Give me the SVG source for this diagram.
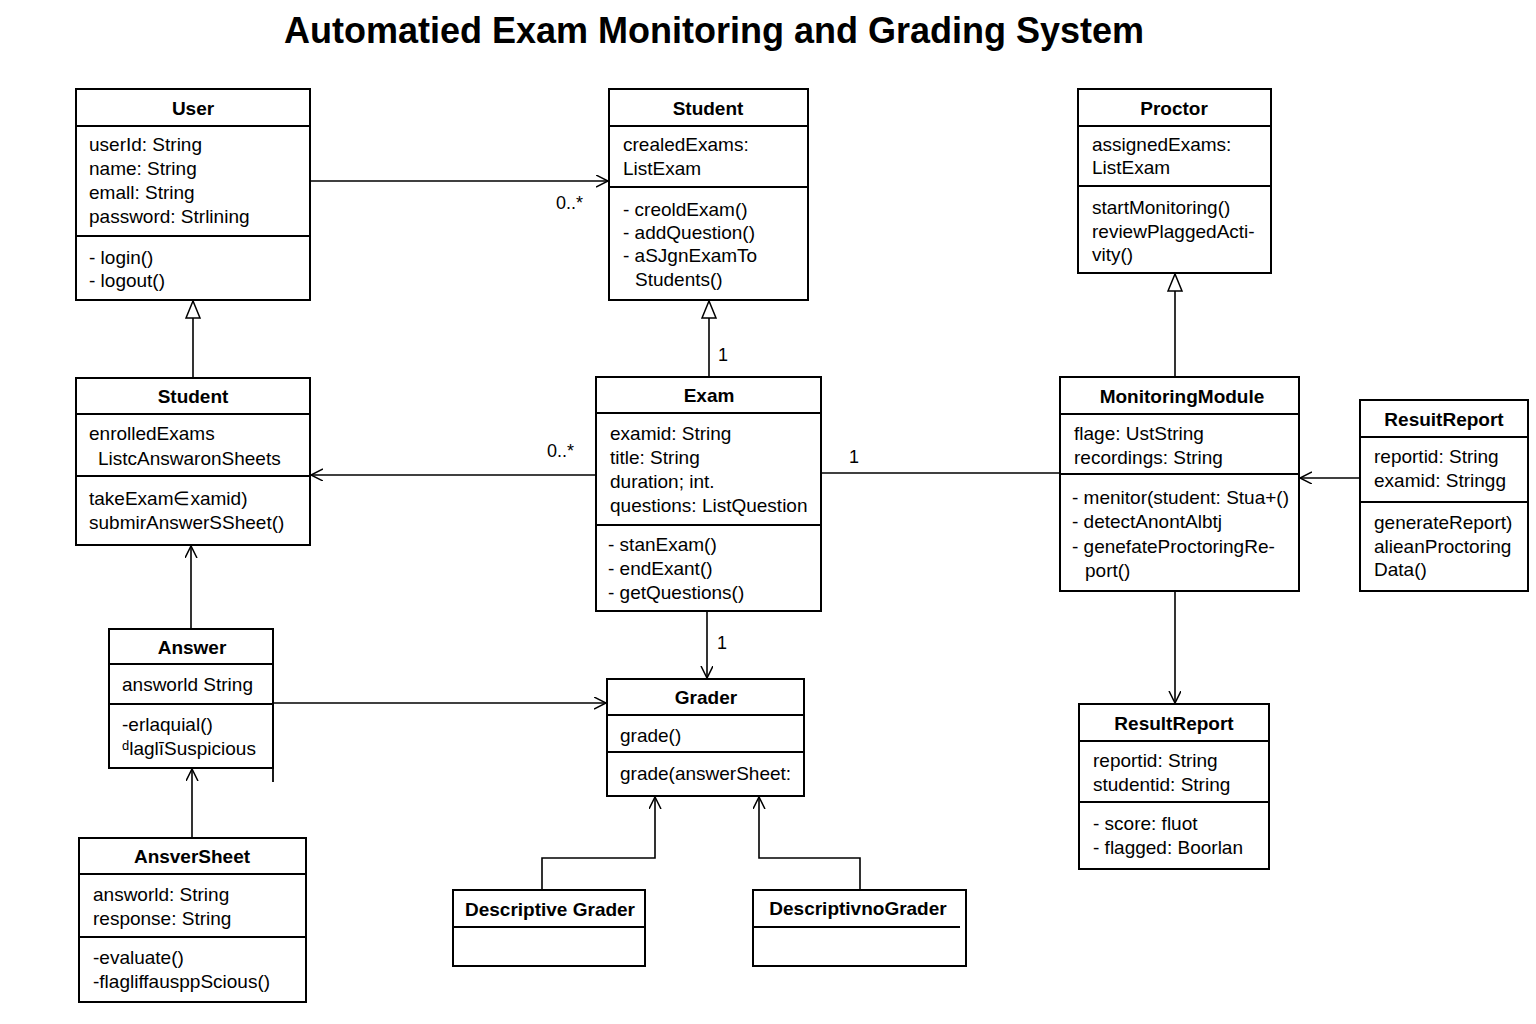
<svg xmlns="http://www.w3.org/2000/svg" width="1536" height="1024" viewBox="0 0 1536 1024">
<defs>
<marker id="open" markerUnits="userSpaceOnUse" markerWidth="14" markerHeight="14" refX="12" refY="6" orient="auto"><path d="M0,0 L12,6 L0,12" fill="none" stroke="#000" stroke-width="1.5"/></marker>
<marker id="tri" markerUnits="userSpaceOnUse" markerWidth="20" markerHeight="20" refX="18" refY="8" orient="auto"><path d="M1,1 L18,8 L1,15 Z" fill="#fff" stroke="#000" stroke-width="1.5"/></marker>
</defs>
<style>
.box{fill:#fff;stroke:#000;stroke-width:2}
.div{stroke:#000;stroke-width:1.8}
.h{font-family:"Liberation Sans",Arial,sans-serif;font-weight:bold;font-size:19px;text-anchor:middle;fill:#000}
.t{font-family:"Liberation Sans",Arial,sans-serif;font-size:19px;fill:#000}
.lbl{font-family:"Liberation Sans",Arial,sans-serif;font-size:18px;fill:#000}
.c{fill:none;stroke:#000;stroke-width:1.6}
.title{font-family:"Liberation Sans",Arial,sans-serif;font-weight:bold;font-size:36px;text-anchor:middle;fill:#000}
</style>
<rect width="1536" height="1024" fill="#fff"/>
<text class="title" x="714" y="43">Automatied Exam Monitoring and Grading System</text>

<g id="connectors">
<line class="c" x1="310" y1="181" x2="608" y2="181" marker-end="url(#open)"/>
<line class="c" x1="193" y1="378" x2="193" y2="301" marker-end="url(#tri)"/>
<line class="c" x1="709" y1="377" x2="709" y2="301" marker-end="url(#tri)"/>
<line class="c" x1="596" y1="475" x2="311" y2="475" marker-end="url(#open)"/>
<line class="c" x1="821" y1="473" x2="1060" y2="473"/>
<line class="c" x1="1175" y1="377" x2="1175" y2="274" marker-end="url(#tri)"/>
<line class="c" x1="1360" y1="478" x2="1300" y2="478" marker-end="url(#open)"/>
<line class="c" x1="1175" y1="591" x2="1175" y2="703" marker-end="url(#open)"/>
<line class="c" x1="707" y1="611" x2="707" y2="678" marker-end="url(#open)"/>
<line class="c" x1="273" y1="703" x2="606" y2="703" marker-end="url(#open)"/>
<line class="c" x1="191" y1="629" x2="191" y2="546" marker-end="url(#open)"/>
<line class="c" x1="192" y1="838" x2="192" y2="769" marker-end="url(#open)"/>
<polyline class="c" points="542,890 542,858 655,858 655,797" marker-end="url(#open)"/>
<polyline class="c" points="860,890 860,858 759,858 759,797" marker-end="url(#open)"/>
<text class="lbl" x="556" y="209">0..*</text>
<text class="lbl" x="718" y="361">1</text>
<text class="lbl" x="547" y="457">0..*</text>
<text class="lbl" x="849" y="463">1</text>
<text class="lbl" x="717" y="649">1</text>
</g>

<g id="user">
<rect class="box" x="76" y="89" width="234" height="211"/>
<line class="div" x1="76" y1="126" x2="310" y2="126"/>
<line class="div" x1="76" y1="236" x2="310" y2="236"/>
<text class="h" x="193" y="115">User</text>
<text class="t" x="89" y="151">userId: String</text>
<text class="t" x="89" y="175">name: String</text>
<text class="t" x="89" y="199">emall: String</text>
<text class="t" x="89" y="223">password: Strlining</text>
<text class="t" x="89" y="264">- login()</text>
<text class="t" x="89" y="287">- logout()</text>
</g>

<g id="student-top">
<rect class="box" x="609" y="89" width="199" height="211"/>
<line class="div" x1="609" y1="126" x2="808" y2="126"/>
<line class="div" x1="609" y1="187" x2="808" y2="187"/>
<text class="h" x="708" y="115">Student</text>
<text class="t" x="623" y="151">crealedExams:</text>
<text class="t" x="623" y="175">ListExam</text>
<text class="t" x="623" y="216">- creoldExam()</text>
<text class="t" x="623" y="239">- addQuestion()</text>
<text class="t" x="623" y="262">- aSJgnExamTo</text>
<text class="t" x="635" y="286">Students()</text>
</g>

<g id="proctor">
<rect class="box" x="1078" y="89" width="193" height="184"/>
<line class="div" x1="1078" y1="126" x2="1271" y2="126"/>
<line class="div" x1="1078" y1="186" x2="1271" y2="186"/>
<text class="h" x="1174" y="115">Proctor</text>
<text class="t" x="1092" y="151">assignedExams:</text>
<text class="t" x="1092" y="174">ListExam</text>
<text class="t" x="1092" y="214">startMonitoring()</text>
<text class="t" x="1092" y="238">reviewPlaggedActi-</text>
<text class="t" x="1092" y="261">vity()</text>
</g>

<g id="student-left">
<rect class="box" x="76" y="378" width="234" height="167"/>
<line class="div" x1="76" y1="414" x2="310" y2="414"/>
<line class="div" x1="76" y1="476" x2="310" y2="476"/>
<text class="h" x="193" y="403">Student</text>
<text class="t" x="89" y="440">enrolledExams</text>
<text class="t" x="98" y="465">ListcAnswaronSheets</text>
<text class="t" x="89" y="505">takeExam∈xamid)</text>
<text class="t" x="89" y="529">submirAnswerSSheet()</text>
</g>

<g id="exam">
<rect class="box" x="596" y="377" width="225" height="234"/>
<line class="div" x1="596" y1="413" x2="821" y2="413"/>
<line class="div" x1="596" y1="525" x2="821" y2="525"/>
<text class="h" x="709" y="402">Exam</text>
<text class="t" x="610" y="440">examid: String</text>
<text class="t" x="610" y="464">title: String</text>
<text class="t" x="610" y="488">duration; int.</text>
<text class="t" x="610" y="512">questions: ListQuestion</text>
<text class="t" x="608" y="551">- stanExam()</text>
<text class="t" x="608" y="575">- endExant()</text>
<text class="t" x="608" y="599">- getQuestions()</text>
</g>

<g id="monitoring-module">
<rect class="box" x="1060" y="377" width="239" height="214"/>
<line class="div" x1="1060" y1="414" x2="1299" y2="414"/>
<line class="div" x1="1060" y1="474" x2="1299" y2="474"/>
<text class="h" x="1182" y="403">MonitoringModule</text>
<text class="t" x="1074" y="440">flage: UstString</text>
<text class="t" x="1074" y="464">recordings: String</text>
<text class="t" x="1072" y="504">- menitor(student: Stua+()</text>
<text class="t" x="1072" y="528">- detectAnontAlbtj</text>
<text class="t" x="1072" y="553">- genefateProctoringRe-</text>
<text class="t" x="1085" y="577">port()</text>
</g>

<g id="resuit-report">
<rect class="box" x="1360" y="400" width="168" height="191"/>
<line class="div" x1="1360" y1="437" x2="1528" y2="437"/>
<line class="div" x1="1360" y1="502" x2="1528" y2="502"/>
<text class="h" x="1444" y="426">ResuitReport</text>
<text class="t" x="1374" y="463">reportid: String</text>
<text class="t" x="1374" y="487">examid: Stringg</text>
<text class="t" x="1374" y="529">generateReport)</text>
<text class="t" x="1374" y="553">alieanProctoring</text>
<text class="t" x="1374" y="576">Data()</text>
</g>

<g id="answer">
<rect class="box" x="109" y="629" width="164" height="139"/>
<line class="div" x1="109" y1="664" x2="273" y2="664"/>
<line class="div" x1="109" y1="704" x2="273" y2="704"/>
<line class="div" x1="273" y1="768" x2="273" y2="782"/>
<text class="h" x="192" y="654">Answer</text>
<text class="t" x="122" y="691">answorld String</text>
<text class="t" x="122" y="731">-erlaquial()</text>
<text class="t" x="122" y="755">ᵈlaglīSuspicious</text>
</g>

<g id="ansver-sheet">
<rect class="box" x="79" y="838" width="227" height="164"/>
<line class="div" x1="79" y1="874" x2="306" y2="874"/>
<line class="div" x1="79" y1="937" x2="306" y2="937"/>
<text class="h" x="192" y="863">AnsverSheet</text>
<text class="t" x="93" y="901">answorld: String</text>
<text class="t" x="93" y="925">response: String</text>
<text class="t" x="93" y="964">-evaluate()</text>
<text class="t" x="93" y="988">-flagliffausppScious()</text>
</g>

<g id="grader">
<rect class="box" x="607" y="679" width="197" height="117"/>
<line class="div" x1="607" y1="715" x2="804" y2="715"/>
<line class="div" x1="607" y1="752" x2="804" y2="752"/>
<text class="h" x="706" y="704">Grader</text>
<text class="t" x="620" y="742">grade()</text>
<text class="t" x="620" y="780">grade(answerSheet:</text>
</g>

<g id="descriptive-grader">
<rect class="box" x="453" y="890" width="192" height="76"/>
<line class="div" x1="453" y1="927" x2="645" y2="927"/>
<text class="h" x="550" y="916">Descriptive Grader</text>
</g>

<g id="descriptivno-grader">
<rect class="box" x="753" y="890" width="213" height="76"/>
<line class="div" x1="753" y1="927" x2="960" y2="927"/>
<text class="h" x="858" y="915">DescriptivnoGrader</text>
</g>

<g id="result-report">
<rect class="box" x="1079" y="704" width="190" height="165"/>
<line class="div" x1="1079" y1="741" x2="1269" y2="741"/>
<line class="div" x1="1079" y1="802" x2="1269" y2="802"/>
<text class="h" x="1174" y="730">ResultReport</text>
<text class="t" x="1093" y="767">reportid: String</text>
<text class="t" x="1093" y="791">studentid: String</text>
<text class="t" x="1093" y="830">- score: fluot</text>
<text class="t" x="1093" y="854">- flagged: Boorlan</text>
</g>
</svg>
